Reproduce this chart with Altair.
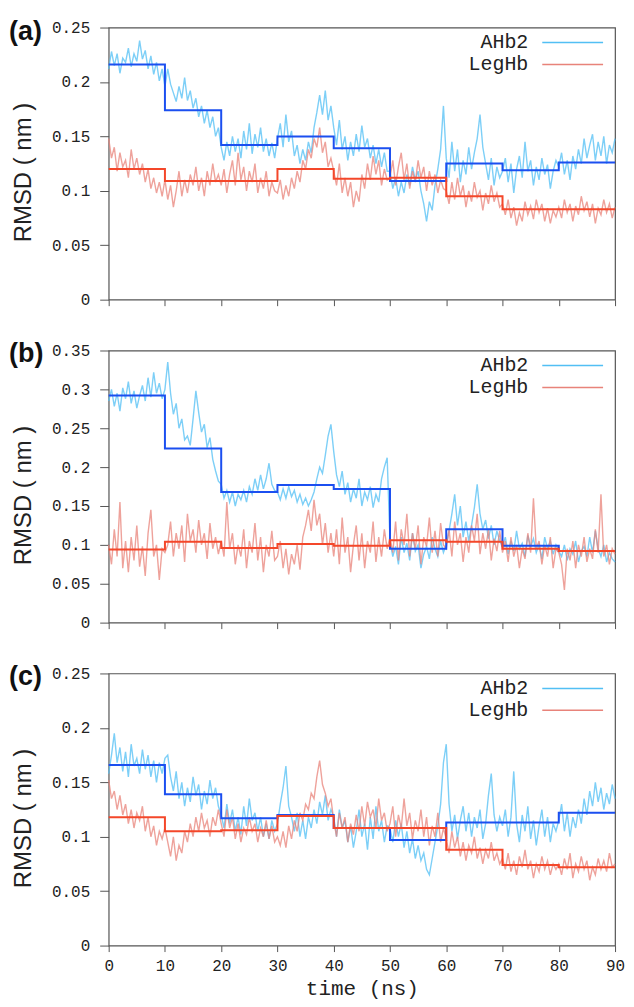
import altair as alt
import numpy as np
import pandas as pd

# ---------------- data ----------------
series_names = ["AHb2", "LegHb"]
panel_labels = ["(a)", "(b)", "(c)"]
x_ticks = [0, 10, 20, 30, 40, 50, 60, 70, 80, 90]
y_ticks_a = [0, 0.05, 0.1, 0.15, 0.2, 0.25]
y_ticks_b = [0, 0.05, 0.1, 0.15, 0.2, 0.25, 0.3, 0.35]
y_ticks_c = [0, 0.05, 0.1, 0.15, 0.2, 0.25]
step_edges = [0, 10, 20, 30, 40, 50, 60, 70, 80, 90]

# panel (a)  (samples every 0.5 ns, 0..90 ns)
ahb2_a = [
    0.212, 0.228, 0.215, 0.226, 0.208, 0.222, 0.218, 0.231, 0.214, 0.226, 0.219, 0.238, 0.221, 0.229, 0.212, 0.224, 0.207, 0.218, 0.201, 0.212, 0.196,
    0.212, 0.198, 0.19, 0.182, 0.196, 0.185, 0.204, 0.183, 0.192, 0.176, 0.185, 0.168, 0.178, 0.162, 0.174, 0.158, 0.168, 0.15, 0.158,
    0.14, 0.128, 0.145, 0.132, 0.15, 0.136, 0.148, 0.13, 0.155, 0.138, 0.162, 0.134, 0.152, 0.14, 0.158, 0.136, 0.148, 0.132, 0.144, 0.13,
    0.148, 0.162, 0.14, 0.17, 0.145, 0.155, 0.132, 0.142, 0.125, 0.138, 0.128, 0.145, 0.135, 0.158, 0.172, 0.188, 0.17, 0.192, 0.165, 0.178,
    0.158, 0.142, 0.165, 0.138, 0.15, 0.128, 0.145, 0.132, 0.152, 0.136, 0.16, 0.14, 0.148, 0.13, 0.142, 0.125, 0.138, 0.122, 0.135, 0.118,
    0.118, 0.102, 0.112, 0.095, 0.108, 0.098, 0.115, 0.105, 0.122, 0.11, 0.118, 0.1, 0.088, 0.072, 0.09, 0.082, 0.105, 0.12, 0.138, 0.178,
    0.13, 0.112, 0.145, 0.118, 0.138, 0.108, 0.128, 0.115, 0.14, 0.12, 0.135, 0.148, 0.17, 0.14, 0.125, 0.11, 0.13, 0.105, 0.122, 0.112,
    0.118, 0.13, 0.108, 0.125, 0.098, 0.12, 0.132, 0.112, 0.145, 0.118, 0.128, 0.105, 0.122, 0.11, 0.13, 0.115, 0.124, 0.102, 0.118, 0.128,
    0.122, 0.135, 0.115, 0.128, 0.11, 0.132, 0.12, 0.138, 0.125, 0.148, 0.13, 0.142, 0.152, 0.128, 0.145, 0.132, 0.15, 0.125, 0.142, 0.135, 0.148,
]
leghb_a = [
    0.148, 0.13, 0.14, 0.118, 0.135, 0.122, 0.128, 0.112, 0.138, 0.12, 0.13, 0.115, 0.125, 0.108, 0.12, 0.102, 0.112, 0.098, 0.108, 0.095, 0.11,
    0.092, 0.105, 0.085, 0.1, 0.118, 0.095, 0.11, 0.098, 0.115, 0.105, 0.122, 0.1, 0.112, 0.095, 0.118, 0.105, 0.125, 0.108, 0.115,
    0.105, 0.12, 0.098, 0.115, 0.128, 0.105, 0.135, 0.11, 0.122, 0.1, 0.118, 0.108, 0.125, 0.098, 0.112, 0.102, 0.118, 0.095, 0.108, 0.1,
    0.098, 0.11, 0.092, 0.105, 0.095, 0.112, 0.102, 0.118, 0.108, 0.128, 0.12, 0.138, 0.13, 0.148, 0.14, 0.158, 0.135, 0.145, 0.122, 0.13,
    0.118, 0.105, 0.125, 0.098, 0.112, 0.095, 0.108, 0.085, 0.1, 0.09, 0.115, 0.102, 0.125, 0.11, 0.132, 0.115, 0.128, 0.105, 0.12, 0.11,
    0.112, 0.128, 0.105, 0.122, 0.135, 0.11, 0.125, 0.102, 0.118, 0.108, 0.128, 0.112, 0.122, 0.1, 0.118, 0.105, 0.115, 0.098, 0.11, 0.102,
    0.1, 0.088, 0.108, 0.092, 0.112, 0.095, 0.105, 0.085, 0.1, 0.09, 0.108, 0.094, 0.1, 0.082, 0.098, 0.088, 0.105, 0.09, 0.098, 0.085,
    0.088, 0.078, 0.092, 0.075, 0.085, 0.068, 0.08, 0.072, 0.09, 0.078, 0.086, 0.074, 0.092, 0.08, 0.088, 0.072, 0.084, 0.07, 0.082, 0.076,
    0.085, 0.075, 0.092, 0.08, 0.088, 0.072, 0.086, 0.078, 0.095, 0.082, 0.09, 0.076, 0.088, 0.07, 0.084, 0.078, 0.092, 0.08, 0.088, 0.075, 0.085,
]
ahb2_a_steps = [0.216, 0.174, 0.142, 0.150, 0.139, 0.109, 0.125, 0.119, 0.126]
leghb_a_steps = [0.120, 0.109, 0.109, 0.120, 0.111, 0.112, 0.095, 0.083, 0.083]

# panel (b)
ahb2_b = [
    0.285, 0.3, 0.278, 0.295, 0.272, 0.302, 0.288, 0.31, 0.282, 0.298, 0.276, 0.292, 0.305, 0.285, 0.315, 0.29, 0.322, 0.295, 0.308, 0.288, 0.3,
    0.335, 0.295, 0.268, 0.282, 0.25, 0.262, 0.235, 0.24, 0.228, 0.262, 0.298, 0.27, 0.245, 0.255, 0.225, 0.238, 0.21, 0.195, 0.182,
    0.178, 0.16, 0.17, 0.155, 0.168, 0.15, 0.165, 0.158, 0.17, 0.155, 0.175, 0.165, 0.185, 0.17, 0.19, 0.172, 0.185, 0.205, 0.178, 0.17,
    0.168, 0.158, 0.172, 0.16, 0.175, 0.162, 0.17, 0.155, 0.165, 0.152, 0.16, 0.15, 0.158, 0.168, 0.185, 0.2, 0.192, 0.215, 0.24, 0.255,
    0.22, 0.19, 0.175, 0.195, 0.165, 0.18, 0.155, 0.172, 0.16, 0.185, 0.15, 0.168, 0.158, 0.175, 0.148, 0.165, 0.155, 0.185, 0.2, 0.212,
    0.105, 0.085, 0.098, 0.075, 0.11, 0.09, 0.102, 0.08, 0.115, 0.092, 0.1, 0.07, 0.088, 0.098, 0.082, 0.11, 0.095, 0.085, 0.105, 0.09,
    0.1, 0.118, 0.14, 0.165, 0.125, 0.15, 0.11, 0.13, 0.105, 0.125, 0.148, 0.178, 0.14, 0.12, 0.132, 0.108, 0.125, 0.1, 0.118, 0.105,
    0.098, 0.11, 0.088, 0.105, 0.092, 0.118, 0.095, 0.102, 0.085, 0.112, 0.098, 0.108, 0.09, 0.1, 0.082, 0.11, 0.095, 0.105, 0.088, 0.1,
    0.092, 0.085, 0.1, 0.08, 0.095, 0.088, 0.105, 0.078, 0.092, 0.098, 0.085, 0.11, 0.09, 0.118, 0.095, 0.085, 0.1, 0.078, 0.09, 0.082, 0.078,
]
leghb_b = [
    0.1, 0.075, 0.12, 0.085, 0.155, 0.07, 0.105, 0.065, 0.11, 0.08, 0.125, 0.072, 0.098, 0.06, 0.115, 0.145, 0.085, 0.1, 0.055, 0.095, 0.09,
    0.1, 0.13, 0.085, 0.115, 0.095, 0.125, 0.078, 0.14, 0.105, 0.12, 0.09, 0.132, 0.1, 0.115, 0.082, 0.128, 0.095, 0.11, 0.088,
    0.105, 0.085, 0.155, 0.095, 0.115, 0.075, 0.1, 0.085, 0.12, 0.07, 0.105, 0.09, 0.128, 0.08, 0.11, 0.065, 0.1, 0.085, 0.118, 0.08,
    0.085, 0.105, 0.07, 0.095, 0.062, 0.088, 0.075, 0.1, 0.068, 0.11, 0.125, 0.145, 0.118, 0.158, 0.125, 0.14, 0.1, 0.128, 0.09, 0.115,
    0.085, 0.12, 0.075, 0.135, 0.09, 0.11, 0.065, 0.1, 0.125, 0.08, 0.115, 0.07, 0.105, 0.09, 0.13, 0.078, 0.11, 0.085, 0.12, 0.095,
    0.11, 0.09, 0.13, 0.08, 0.12, 0.1, 0.14, 0.085, 0.115, 0.095, 0.125, 0.075, 0.11, 0.098, 0.135, 0.09, 0.118, 0.085, 0.128, 0.1,
    0.095, 0.12, 0.085, 0.13, 0.1, 0.115, 0.078, 0.11, 0.09, 0.125, 0.105, 0.14, 0.088, 0.115, 0.095, 0.12, 0.08, 0.108, 0.092, 0.118,
    0.09, 0.105, 0.078, 0.11, 0.085, 0.1, 0.07, 0.095, 0.082, 0.115, 0.09, 0.16, 0.095, 0.105, 0.075, 0.1, 0.085, 0.11, 0.07, 0.095,
    0.09, 0.075, 0.042, 0.095, 0.08, 0.105, 0.07, 0.1, 0.085, 0.11, 0.078, 0.095, 0.082, 0.12, 0.09, 0.165, 0.085, 0.1, 0.075, 0.095, 0.088,
]
ahb2_b_steps = [0.292, 0.224, 0.168, 0.177, 0.172, 0.095, 0.120, 0.099, 0.092]
leghb_b_steps = [0.094, 0.104, 0.096, 0.101, 0.099, 0.106, 0.104, 0.095, 0.092]

# panel (c)
ahb2_c = [
    0.158, 0.175, 0.195, 0.168, 0.182, 0.16, 0.178, 0.155, 0.185, 0.165, 0.172, 0.158, 0.18, 0.162, 0.175, 0.155, 0.17, 0.15, 0.168, 0.158, 0.172,
    0.175, 0.155, 0.142, 0.16, 0.135, 0.15, 0.128, 0.145, 0.132, 0.155, 0.138, 0.148, 0.125, 0.142, 0.13, 0.152, 0.135, 0.145, 0.128,
    0.12, 0.108, 0.13, 0.112, 0.125, 0.105, 0.118, 0.102, 0.128, 0.11, 0.135, 0.115, 0.122, 0.105, 0.118, 0.1, 0.112, 0.098, 0.115, 0.105,
    0.112, 0.13, 0.145, 0.165, 0.128, 0.118, 0.105, 0.122, 0.1, 0.115, 0.098, 0.118, 0.108, 0.125, 0.112, 0.132, 0.12, 0.138, 0.115, 0.125,
    0.118, 0.1, 0.125, 0.108, 0.115, 0.095, 0.11, 0.09, 0.105, 0.125, 0.1, 0.112, 0.088, 0.118, 0.098, 0.128, 0.105, 0.115, 0.095, 0.11,
    0.108, 0.095, 0.115, 0.1, 0.112, 0.09, 0.105, 0.085, 0.098, 0.08, 0.092, 0.078, 0.085, 0.07, 0.065, 0.08, 0.095, 0.11, 0.13, 0.168,
    0.185, 0.13, 0.105, 0.12, 0.098, 0.115, 0.128, 0.105, 0.122, 0.1, 0.118, 0.108, 0.125, 0.098, 0.112, 0.138, 0.158, 0.12, 0.105, 0.118,
    0.11, 0.125, 0.1, 0.118, 0.16, 0.112, 0.095, 0.12, 0.105, 0.128, 0.098, 0.115, 0.092, 0.11, 0.125, 0.1, 0.118, 0.095, 0.112, 0.105,
    0.115, 0.13, 0.105, 0.122, 0.1, 0.118, 0.108, 0.125, 0.112, 0.135, 0.12, 0.142, 0.128, 0.15, 0.132, 0.145, 0.125, 0.14, 0.13, 0.148, 0.135,
]
leghb_c = [
    0.152, 0.135, 0.142, 0.125, 0.138, 0.12, 0.13, 0.112, 0.125, 0.108, 0.122, 0.115, 0.128, 0.105, 0.118, 0.1, 0.11, 0.092, 0.105, 0.098, 0.108,
    0.095, 0.082, 0.1, 0.078, 0.092, 0.085, 0.105, 0.095, 0.112, 0.1, 0.118, 0.105, 0.122, 0.108, 0.115, 0.1, 0.118, 0.11, 0.125,
    0.112, 0.1, 0.125, 0.108, 0.118, 0.098, 0.112, 0.095, 0.108, 0.102, 0.118, 0.105, 0.112, 0.095, 0.108, 0.1, 0.115, 0.098, 0.11, 0.095,
    0.1, 0.092, 0.105, 0.09, 0.11, 0.098, 0.115, 0.105, 0.122, 0.115, 0.13, 0.125, 0.14, 0.135, 0.155, 0.17, 0.148, 0.14, 0.128, 0.135,
    0.115, 0.1, 0.122, 0.108, 0.118, 0.095, 0.112, 0.102, 0.12, 0.105, 0.128, 0.11, 0.132, 0.118, 0.125, 0.108, 0.135, 0.115, 0.122, 0.105,
    0.112, 0.128, 0.1, 0.12, 0.108, 0.135, 0.11, 0.122, 0.098, 0.115, 0.105, 0.125, 0.1, 0.118, 0.092, 0.11, 0.1, 0.122, 0.095, 0.108,
    0.098, 0.085, 0.105, 0.09, 0.1, 0.082, 0.095, 0.078, 0.092, 0.085, 0.1, 0.08, 0.09, 0.075, 0.088, 0.08, 0.095, 0.078, 0.085, 0.075,
    0.08, 0.07, 0.085, 0.068, 0.078, 0.065, 0.082, 0.072, 0.088, 0.07, 0.078, 0.062, 0.075, 0.068, 0.082, 0.07, 0.078, 0.065, 0.075, 0.07,
    0.075, 0.065, 0.08, 0.07, 0.085, 0.062, 0.075, 0.068, 0.082, 0.07, 0.078, 0.06, 0.072, 0.065, 0.08, 0.07, 0.078, 0.068, 0.085, 0.072, 0.075,
]
ahb2_c_steps = [0.166, 0.139, 0.117, 0.120, 0.108, 0.097, 0.113, 0.113, 0.122]
leghb_c_steps = [0.118, 0.105, 0.106, 0.119, 0.108, 0.108, 0.088, 0.074, 0.072]

# ---------------- styling ----------------
LIGHT_BLUE = "#52bff4"
LIGHT_RED = "#e8837a"
BLUE = "#1b4ff0"
RED = "#f4472a"
MONO = "Liberation Mono"
SANS = "Liberation Sans"
W, H = 508, 273


def panel(label, ahb2, leghb, ahb2_steps, leghb_steps, y_ticks, bottom):
    t1 = np.linspace(0, 90, len(ahb2))
    t2 = np.linspace(0, 90, len(leghb))
    noisy = pd.DataFrame({
        "time": np.concatenate([t1, t2]),
        "rmsd": list(ahb2) + list(leghb),
        "series": [series_names[0]] * len(ahb2) + [series_names[1]] * len(leghb),
    })
    s_a = pd.DataFrame({"time": step_edges, "rmsd": ahb2_steps + [ahb2_steps[-1]]})
    s_l = pd.DataFrame({"time": step_edges, "rmsd": leghb_steps + [leghb_steps[-1]]})

    x_axis_kw = dict(values=x_ticks, tickSize=6, labelPadding=6, labelFlush=False,
                     labels=bottom, titleFont=MONO, titleFontSize=21,
                     titleFontWeight="normal", titlePadding=4)
    if bottom:
        x_axis = alt.Axis(title="time (ns)", **x_axis_kw)
    else:
        x_axis = alt.Axis(title=None, **x_axis_kw)
    x = alt.X("time:Q", scale=alt.Scale(domain=[0, 90], nice=False, zero=False), axis=x_axis)
    y = alt.Y("rmsd:Q",
              scale=alt.Scale(domain=[0, y_ticks[-1]], nice=False),
              axis=alt.Axis(values=y_ticks, format="~g", title="RMSD ( nm )",
                            tickSize=9, labelPadding=10, labelFlush=False,
                            titleFont=SANS, titleFontSize=24, titleFontWeight="normal",
                            titlePadding=16, titleY=145))

    lines = alt.Chart(noisy).mark_line(strokeWidth=1.4, opacity=0.75).encode(
        x=x, y=y,
        color=alt.Color("series:N",
                        scale=alt.Scale(domain=series_names, range=[LIGHT_BLUE, LIGHT_RED]),
                        legend=None),
    )
    step_blue = alt.Chart(s_a).mark_line(interpolate="step-after", color=BLUE, strokeWidth=2).encode(x=x, y=y)
    step_red = alt.Chart(s_l).mark_line(interpolate="step-after", color=RED, strokeWidth=2).encode(x=x, y=y)

    # legend (inside, top right): label then a line sample
    leg_layers = []
    for i, (name, col) in enumerate(zip(series_names, [LIGHT_BLUE, LIGHT_RED])):
        yy = 15 + 22 * i
        leg_layers.append(
            alt.Chart().mark_text(align="right", baseline="middle", font=MONO, fontSize=20, color="#222")
            .encode(x=alt.value(W - 87), y=alt.value(yy), text=alt.value(name))
        )
        leg_layers.append(
            alt.Chart().mark_rule(color=col, strokeWidth=1.5)
            .encode(x=alt.value(W - 73), x2=alt.value(W - 12), y=alt.value(yy))
        )

    tag = alt.Chart().mark_text(
        align="left", baseline="middle", font=SANS, fontSize=27, fontWeight="bold", color="#111"
    ).encode(x=alt.value(-100), y=alt.value(4), text=alt.value(label))
    return alt.layer(lines, step_blue, step_red, tag, *leg_layers).properties(width=W, height=H)


pa = panel(panel_labels[0], ahb2_a, leghb_a, ahb2_a_steps, leghb_a_steps, y_ticks_a, False)
pb = panel(panel_labels[1], ahb2_b, leghb_b, ahb2_b_steps, leghb_b_steps, y_ticks_b, False)
pc = panel(panel_labels[2], ahb2_c, leghb_c, ahb2_c_steps, leghb_c_steps, y_ticks_c, True)

chart = (
    alt.vconcat(pa, pb, pc, spacing=51, bounds="flush")
    .resolve_scale(y="independent", color="independent")
    .properties(padding={"left": 0, "top": 7, "right": 0, "bottom": 0}, background="white")
    .configure_view(stroke="#555", strokeWidth=1.2)
    .configure_axis(domain=False, grid=False, tickColor="#555", tickWidth=1,
                    labelColor="#222", labelFont=MONO, labelFontSize=16,
                    labelOverlap=False, titleColor="#222")
)

chart.save("out.html", embed_options={"renderer": "svg", "actions": False})
